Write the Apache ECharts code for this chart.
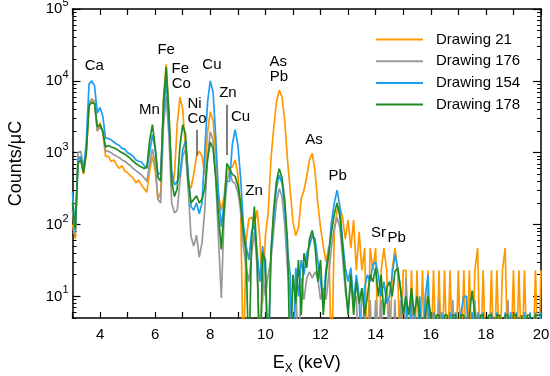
<!DOCTYPE html>
<html><head><meta charset="utf-8">
<script src="https://cdn.jsdelivr.net/npm/echarts@6/dist/echarts.min.js"></script>
<style>html,body{margin:0;padding:0;background:#fff}#c{width:550px;height:376px}</style>
</head><body><div id="c"></div>
<script>
// X-ray energy channels (keV)
const energy = [
3.0,3.1,3.2,3.3,3.4,3.5,3.6,3.7,3.8,3.9,
4.0,4.1,4.2,4.3,4.4,4.5,4.6,4.7,4.8,4.9,
5.0,5.1,5.2,5.3,5.4,5.5,5.6,5.7,5.8,5.9,
6.0,6.1,6.2,6.3,6.4,6.5,6.6,6.7,6.8,6.9,
7.0,7.1,7.2,7.3,7.4,7.5,7.6,7.7,7.8,7.9,
8.0,8.1,8.2,8.3,8.4,8.5,8.6,8.7,8.8,8.9,
9.0,9.1,9.2,9.3,9.4,9.5,9.6,9.7,9.8,9.9,
10.0,10.1,10.2,10.3,10.4,10.5,10.6,10.7,10.8,10.9,
11.0,11.1,11.2,11.3,11.4,11.5,11.6,11.7,11.8,11.9,
12.0,12.1,12.2,12.3,12.4,12.5,12.6,12.7,12.8,12.9,
13.0,13.1,13.2,13.3,13.4,13.5,13.6,13.7,13.8,13.9,
14.0,14.1,14.2,14.3,14.4,14.5,14.6,14.7,14.8,14.9,
15.0,15.1,15.2,15.3,15.4,15.5,15.6,15.7,15.8,15.9,
16.0,16.1,16.2,16.3,16.4,16.5,16.6,16.7,16.8,16.9,
17.0,17.1,17.2,17.3,17.4,17.5,17.6,17.7,17.8,17.9,
18.0,18.1,18.2,18.3,18.4,18.5,18.6,18.7,18.8,18.9,
19.0,19.1,19.2,19.3,19.4,19.5,19.6,19.7,19.8,19.9,
20.0];

// Counts/uC per series
const drawing21 = [
100,63,891,794,501,950,4500,5250,5000,2000,
2630,1910,891,891,759,794,676,603,661,550,
525,479,447,380,417,355,316,282,560,891,
560,224,280,5600,17000,3550,340,480,2500,5900,
4000,1100,380,320,501,891,1050,891,501,1900,
3700,2800,900,250,158,251,562,631,631,794,
500,180,1,60,120,126,100,158,63,8,
70,145,800,2200,5000,7410,6000,2800,800,300,
110,70,90,229,300,470,800,977,550,200,
90,50,30,50,1,79,158,178,126,63,
115,47,115,23,79,23,47,1,47,23,
47,1,23,47,23,1,23,47,23,1,
23,23,1,23,1,23,1,23,1,23,
1,23,1,23,1,23,1,23,1,1,
23,1,23,1,23,1,23,47,1,23,
1,1,23,1,23,1,23,47,1,1,
23,1,23,1,23,1,1,1,23,1,
23];

const drawing176 = [
158,71,1000,1050,631,1100,5000,5620,5200,2000,
2290,1910,1050,1050,1000,933,891,851,794,759,
708,661,603,562,525,490,447,398,700,1120,
700,224,200,2300,6030,1700,200,145,158,400,
900,1100,300,68,50,71,35,56,160,900,
1950,1500,400,60,9.5,126,398,575,398,372,
282,158,50,25,16,40,79,25,1,20,
10,20,32,80,200,316,250,100,25,10,
1,18,1,18,9,18,22,18,22,18,
9,13,9,20,50,90,125,90,35,12,
6,20,8,10,1,13,8,1,9,1,
9,1,9,1,1,9,1,9,1,9,
1,18,1,9,1,1,9,1,1,9,
1,1,1,9,1,1,1,1,9,1,
1,1,1,1,1,1,9,1,1,1,
1,1,1,1,1,1,1,1,9,1,
1,1,1,1,1,1,1,1,1,1,
1];

const drawing154 = [
282,79,794,891,562,1380,9000,10000,8500,3550,
4270,3200,1580,1580,1510,1410,1320,1260,1150,1120,
1000,955,891,794,759,741,661,603,1000,1780,
1120,500,520,3500,10000,2500,562,355,398,500,
1100,1450,500,178,158,200,141,200,1050,5000,
10000,7000,1600,250,93,200,398,400,1300,2090,
1300,450,100,50,32,79,100,40,16,50,
20,1,40,130,320,490,380,180,45,20,
1,25,10,32,20,40,50,71,63,32,
16,8,25,40,110,200,300,180,60,25,
16,25,8,20,10,1,13,20,16,28,
30,20,10,16,8,10,20,38,25,13,
6,10,1,10,6,1,10,1,10,20,
1,6,1,1,6,1,1,6,1,6,
1,6,10,10,1,6,1,6,1,6,
1,1,6,1,6,1,1,6,1,6,
1,6,1,1,6,1,6,1,6,1,
6];

const drawing178 = [
200,89,708,794,525,1000,4500,5010,4800,2290,
2450,2000,1200,1260,1200,1170,1120,1050,1000,955,
891,832,759,708,661,631,603,630,1500,2450,
1200,450,400,5000,15500,3500,398,245,316,1260,
2450,1800,400,200,224,251,200,224,316,800,
1410,1150,450,130,45,158,708,600,500,468,
355,200,79,40,1,63,178,32,1,40,
32,1,40,160,400,600,450,220,60,1,
20,8,32,5.5,40,25,63,83,50,16,
32,5.5,20,40,80,140,200,130,50,16,
5.5,20,5.5,16,8,13,5.5,10,20,16,
25,10,20,5.5,13,16,10,22,25,13,
5.5,10,5.5,13,5.5,10,5.5,1,5.5,10,
5.5,1,5.5,5.5,1,5.5,5.5,1,5.5,5.5,
1,5.5,5.5,1,5.5,12,5.5,1,5.5,5.5,
1,5.5,5.5,1,5.5,5.5,1,5.5,5.5,1,
5.5,5.5,1,5.5,1,5.5,5.5,1,5.5,5.5,
5.5];

const seriesNames = ['Drawing 21', 'Drawing 176', 'Drawing 154', 'Drawing 178'];
const seriesData = [drawing21, drawing176, drawing154, drawing178];
const seriesColors = ['#ff9900', '#999999', '#1e9ef0', '#1f8c1f'];

const xTickLabels = [4, 6, 8, 10, 12, 14, 16, 18, 20];
const yMajorTicks = [10, 100, 1000, 10000, 100000];
const yMinorTicks = [5,6,7,8,9, 20,30,40,50,60,70,80,90, 200,300,400,500,600,700,800,900,
  2000,3000,4000,5000,6000,7000,8000,9000, 20000,30000,40000,50000,60000,70000,80000,90000];

// element annotations: [text, energy keV, counts]
const peakLabels = [
  ['Ca', 3.79, 16200], ['Fe', 6.40, 26900], ['Mn', 5.79, 3950],
  ['Fe', 6.91, 14700], ['Co', 6.95, 9080], ['Ni', 7.43, 4790], ['Co', 7.52, 2950],
  ['Cu', 8.06, 16700], ['Zn', 8.64, 6870], ['Cu', 9.10, 3120], ['Zn', 9.59, 297],
  ['As', 10.47, 18600], ['Pb', 10.49, 11500], ['As', 11.76, 1510], ['Pb', 12.62, 480],
  ['Sr', 14.10, 76], ['Pb', 14.76, 66]
];
// marker lines: [energy, top counts, bottom counts]
const markerLines = [[7.51, 2080, 910], [8.59, 4630, 930]];

const FONT = 'Liberation Sans, Arial, Helvetica, sans-serif';
const chart = echarts.init(document.getElementById('c'), null, {renderer: 'canvas'});

const yBase = {
  type: 'log', logBase: 10, min: 5, max: 100000,
  splitLine: {show: false}, minorTick: {show: false}
};

const option = {
  animation: false,
  backgroundColor: '#fff',
  textStyle: {fontFamily: FONT},
  grid: {left: 72.5, right: 9, top: 9, bottom: 58, containLabel: false, outerBoundsMode: 'none'},
  legend: {
    orient: 'vertical', left: 371, top: 27,
    icon: 'rect', itemWidth: 47, itemHeight: 2, itemGap: 6.7,
    textStyle: {fontSize: 15, color: '#000', fontFamily: FONT, padding: [0, 0, 0, 8]},
    data: seriesNames
  },
  xAxis: [
    {
      type: 'value', min: 3, max: 20, interval: 1, position: 'bottom',
      name: '{e|E}{s|X}{e| (keV)}', nameLocation: 'middle', nameGap: 36,
      nameTextStyle: {
        rich: {
          e: {fontSize: 18, color: '#000', fontFamily: FONT, lineHeight: 20, verticalAlign: 'top'},
          s: {fontSize: 12, color: '#000', fontFamily: FONT, lineHeight: 12, padding: [9, 0, 0, 0], verticalAlign: 'top'}
        }
      },
      axisLine: {show: true, onZero: false, lineStyle: {color: '#000', width: 1.5}},
      axisTick: {show: true, inside: true, length: 6, lineStyle: {color: '#000', width: 1.2}},
      axisLabel: {
        fontSize: 15, color: '#000', fontFamily: FONT, margin: 9,
        formatter: v => (xTickLabels.indexOf(v) >= 0 ? String(v) : '')
      },
      splitLine: {show: false}
    },
    {
      type: 'value', min: 3, max: 20, interval: 1, position: 'top',
      axisLine: {show: true, onZero: false, lineStyle: {color: '#000', width: 1.5}},
      axisTick: {show: true, inside: true, length: 6, lineStyle: {color: '#000', width: 1.2}},
      axisLabel: {show: false},
      splitLine: {show: false}
    }
  ],
  yAxis: [
    Object.assign({}, yBase, {
      position: 'left',
      name: 'Counts/μC', nameLocation: 'middle', nameGap: 47, nameRotate: 90,
      nameTextStyle: {fontSize: 18, color: '#000', fontFamily: FONT},
      axisLine: {show: true, lineStyle: {color: '#000', width: 1.5}},
      axisTick: {show: true, inside: true, length: 8, customValues: yMajorTicks, lineStyle: {color: '#000', width: 1.2}},
      axisLabel: {
        show: true, margin: 4, customValues: yMajorTicks,
        formatter: v => '{a|10}{b|' + Math.round(Math.log10(v)) + '}',
        rich: {
          a: {fontSize: 15, color: '#000', fontFamily: FONT, lineHeight: 15, verticalAlign: 'bottom'},
          b: {fontSize: 11, color: '#000', fontFamily: FONT, lineHeight: 11, padding: [0, 0, 8, 0], verticalAlign: 'bottom'}
        }
      }
    }),
    Object.assign({}, yBase, {
      position: 'left',
      axisLine: {show: false},
      axisTick: {show: true, inside: true, length: 4, customValues: yMinorTicks, lineStyle: {color: '#000', width: 1}},
      axisLabel: {show: false}
    }),
    Object.assign({}, yBase, {
      position: 'right',
      axisLine: {show: true, lineStyle: {color: '#000', width: 1.5}},
      axisTick: {show: true, inside: true, length: 8, customValues: yMajorTicks, lineStyle: {color: '#000', width: 1.2}},
      axisLabel: {show: false}
    }),
    Object.assign({}, yBase, {
      position: 'right',
      axisLine: {show: false},
      axisTick: {show: true, inside: true, length: 4, customValues: yMinorTicks, lineStyle: {color: '#000', width: 1}},
      axisLabel: {show: false}
    })
  ],
  series: seriesNames.map((name, k) => ({
    name: name, type: 'line', xAxisIndex: 0, yAxisIndex: 0,
    data: energy.map((e, i) => [e, seriesData[k][i]]),
    symbol: 'none', showSymbol: false, clip: true,
    color: seriesColors[k],
    lineStyle: {color: seriesColors[k], width: 1.7},
    emphasis: {disabled: true}, silent: true, z: 2 + k
  })).concat([{
    type: 'scatter', xAxisIndex: 0, yAxisIndex: 0, silent: true, z: 10,
    symbolSize: 1, itemStyle: {color: 'rgba(0,0,0,0)'},
    data: peakLabels.map(p => ({name: p[0], value: [p[1], p[2]]})),
    label: {show: true, position: 'inside', formatter: p => p.name, fontSize: 15, color: '#000', fontFamily: FONT, opacity: 1},
    markLine: {
      silent: true, animation: false, symbol: ['none', 'none'],
      label: {show: false},
      lineStyle: {color: '#555', width: 1.5, type: 'solid'},
      data: markerLines.map(m => [{coord: [m[0], m[1]]}, {coord: [m[0], m[2]]}])
    }
  }])
};
chart.setOption(option);
</script></body></html>
